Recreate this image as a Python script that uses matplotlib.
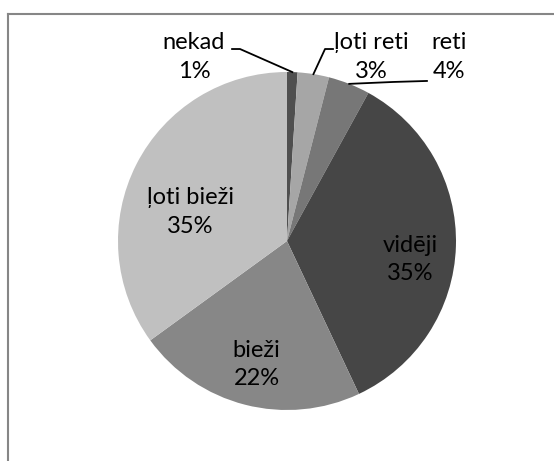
import numpy as np
import matplotlib
matplotlib.use("Agg")
import matplotlib.pyplot as plt
from matplotlib.lines import Line2D

plt.rcParams['font.family'] = ['Lato', 'DejaVu Sans']

# --- data ---
categories = ['nekad', 'ļoti reti', 'reti', 'vidēji', 'bieži', 'ļoti bieži']
values = [1, 3, 4, 35, 22, 35]
colors = ['#4f4f4f', '#a6a6a6', '#777777', '#464646', '#878787', '#c0c0c0']

# label centres (data units, pie radius = 1) and which ones get a leader line
label_pos = [(-0.55, 1.09), (0.50, 1.09), (0.96, 1.09),
             (0.73, -0.11), (-0.18, -0.73), (-0.57, 0.17)]
# leader start points (text side) and elbows, in data units
leaders = {
    0: [(-0.325, 1.136), (-0.278, 1.136)],
    1: [(0.272, 1.136), (0.225, 1.136)],
    2: [(0.828, 0.947), (0.627, 0.941)],
}

W, H, DPI = 554, 461, 100
fig = plt.figure(figsize=(W / DPI, H / DPI), dpi=DPI)

# chart border (only left and top edges visible in the crop)
bx, by = 7.5 / W, 1 - 14 / H
fig.add_artist(Line2D([bx, bx], [0, by], color='#868686', lw=1.5, transform=fig.transFigure))
fig.add_artist(Line2D([bx, 1], [by, by], color='#868686', lw=1.5, transform=fig.transFigure))

# pie axes: centre (287, 241) px, radius 169 px
cx, cy, r = 287, 241, 169
ax = fig.add_axes([(cx - r) / W, (H - cy - r) / H, 2 * r / W, 2 * r / H])
wedges, _ = ax.pie(values, colors=colors, startangle=90, counterclock=False,
                   radius=1, wedgeprops=dict(linewidth=0))
ax.set_xlim(-1, 1)
ax.set_ylim(-1, 1)
ax.set_aspect('auto')
ax.axis('off')

for i, (name, v) in enumerate(zip(categories, values)):
    x, y = label_pos[i]
    ax.text(x, y, f'{name}\n{v}%', ha='center', va='center', fontsize=17,
            linespacing=1.45, color='black', clip_on=False)
    if i in leaders:
        w = wedges[i]
        mid = np.deg2rad((w.theta1 + w.theta2) / 2)
        pts = leaders[i] + [(np.cos(mid), np.sin(mid))]
        xs, ys = zip(*pts)
        ax.plot(xs, ys, color='black', lw=1.3, clip_on=False)

fig.savefig('out.png', dpi=DPI)
